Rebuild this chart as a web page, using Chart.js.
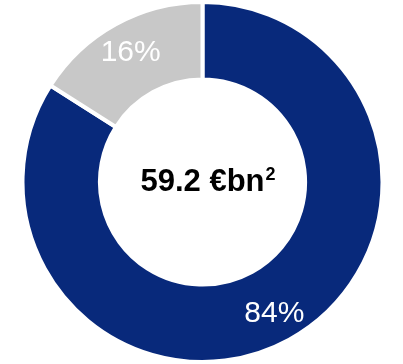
<!DOCTYPE html>
<html><head><meta charset="utf-8">
<script src="https://cdn.jsdelivr.net/npm/chart.js@4"></script>
<style>html,body{margin:0;padding:0;background:#fff;}#wrap{width:403px;height:364px;}</style>
</head><body><div id="wrap"><canvas id="c" width="403" height="364"></canvas></div>
<script>
const categories = ["Blue", "Grey"];
const values = [84, 16];
const valueLabels = ["84%", "16%"];
const centerMain = "59.2 €bn";
const centerSup = "2";

const labelPlugin = {
  id: 'labels',
  afterDatasetsDraw(chart) {
    const ctx = chart.ctx;
    const meta = chart.getDatasetMeta(0);
    ctx.save();
    ctx.fillStyle = '#ffffff';
    ctx.font = '30px "Liberation Sans", Arial, sans-serif';
    ctx.textAlign = 'center';
    ctx.textBaseline = 'middle';
    meta.data.forEach((arc, i) => {
      const mid = (arc.startAngle + arc.endAngle) / 2;
      const r = arc.innerRadius + (arc.outerRadius - arc.innerRadius) * 0.6;
      ctx.fillText(valueLabels[i], arc.x + Math.cos(mid) * r, arc.y + Math.sin(mid) * r + 1);
    });
    const arc0 = meta.data[0];
    const cx = arc0.x, cy = arc0.y;
    ctx.fillStyle = '#000000';
    ctx.font = 'bold 31px "Liberation Sans", Arial, sans-serif';
    const w = ctx.measureText(centerMain).width;
    ctx.textAlign = 'left';
    ctx.fillText(centerMain, cx - w / 2, cy);
    ctx.font = 'bold 18px "Liberation Sans", Arial, sans-serif';
    ctx.fillText(centerSup, cx + w / 2 + 1, cy - 7);
    ctx.restore();
  }
};

new Chart(document.getElementById('c'), {
  type: 'doughnut',
  data: {
    labels: categories,
    datasets: [{
      data: values,
      backgroundColor: ['#08297B', '#C8C8C8'],
      borderColor: '#ffffff',
      borderWidth: 4,
      borderAlign: 'center'
    }]
  },
  options: {
    responsive: false,
    animation: false,
    cutout: '57%',
    layout: { padding: { left: 2, top: 0, bottom: 0 } },
    plugins: { legend: { display: false }, tooltip: { enabled: false } }
  },
  plugins: [labelPlugin]
});
</script></body></html>
